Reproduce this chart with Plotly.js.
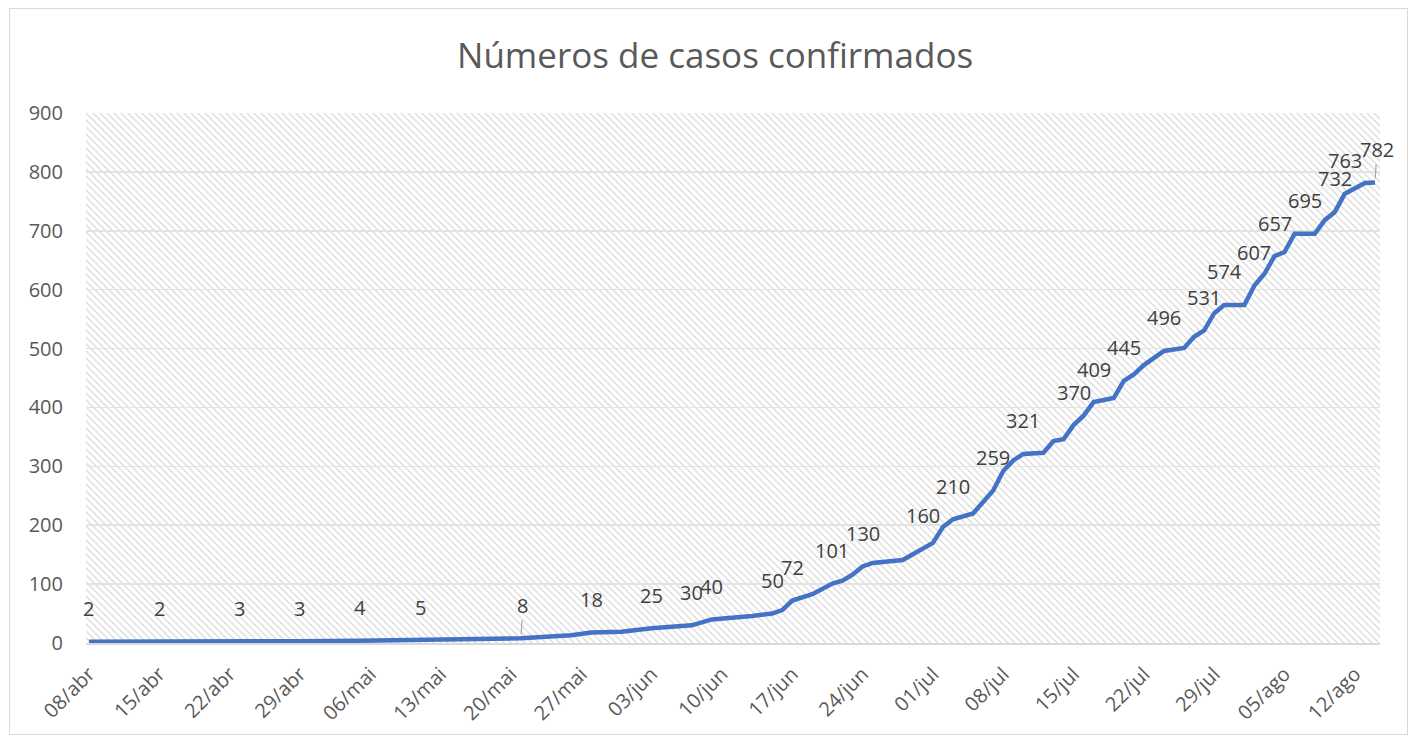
<!DOCTYPE html>
<html>
<head>
<meta charset="utf-8">
<script src="https://cdn.plot.ly/plotly-3.0.1.min.js"></script>
<style>
  body { margin: 0; background: #fff; }
  #chart { position: absolute; left: 0; top: 0; width: 1416px; height: 740px; }
  #frame {
    position: absolute; left: 9px; top: 8px; width: 1397px; height: 725px;
    border: 1px solid #d9d9d9; pointer-events: none;
  }
</style>
</head>
<body>
<div id="chart"></div>
<div id="frame"></div>
<script>
// casos confirmados acumulados
const dates = [
  "2020-04-08", "2020-04-15", "2020-04-23", "2020-04-29", "2020-05-05",
  "2020-05-11", "2020-05-20", "2020-05-21", "2020-05-26", "2020-05-28",
  "2020-05-31", "2020-06-03", "2020-06-07", "2020-06-09", "2020-06-13",
  "2020-06-15", "2020-06-16", "2020-06-17", "2020-06-19", "2020-06-20",
  "2020-06-21", "2020-06-22", "2020-06-23", "2020-06-24", "2020-06-25",
  "2020-06-28", "2020-06-30", "2020-07-01", "2020-07-02", "2020-07-03",
  "2020-07-05", "2020-07-07", "2020-07-08", "2020-07-09", "2020-07-10",
  "2020-07-12", "2020-07-13", "2020-07-14", "2020-07-15", "2020-07-16",
  "2020-07-17", "2020-07-19", "2020-07-20", "2020-07-21", "2020-07-22",
  "2020-07-24", "2020-07-26", "2020-07-27", "2020-07-28", "2020-07-29",
  "2020-07-30", "2020-08-01", "2020-08-02", "2020-08-03", "2020-08-04",
  "2020-08-05", "2020-08-06", "2020-08-07", "2020-08-08", "2020-08-09",
  "2020-08-10", "2020-08-11", "2020-08-13", "2020-08-14",
];
const cases = [
  2, 2, 3, 3, 4,
  5, 6, 8, 13, 18,
  19, 25, 30, 40, 46,
  50, 56, 72, 83, 92,
  101, 106, 116, 130, 136,
  141, 160, 170, 197, 210,
  220, 259, 292, 310, 321,
  323, 343, 346, 370, 386,
  409, 416, 445, 456, 472,
  496, 501, 520, 531, 560,
  574, 574, 607, 627, 657,
  664, 695, 695, 695, 718,
  732, 763, 781, 782,
];

// pontos com rótulo de dados
const labelDates = [
  "2020-04-08", "2020-04-15", "2020-04-23", "2020-04-29", "2020-05-05",
  "2020-05-11", "2020-05-21", "2020-05-28", "2020-06-03", "2020-06-07",
  "2020-06-09", "2020-06-15", "2020-06-17", "2020-06-21", "2020-06-24",
  "2020-06-30", "2020-07-03", "2020-07-07", "2020-07-10", "2020-07-15",
  "2020-07-17", "2020-07-20", "2020-07-24", "2020-07-28", "2020-07-30",
  "2020-08-02", "2020-08-04", "2020-08-07", "2020-08-10", "2020-08-11",
  "2020-08-14",
];
// rótulos com linha de chamada
const leaderDates = ["2020-05-21", "2020-08-14"];

const tickDates = [
  "2020-04-08", "2020-04-15", "2020-04-22", "2020-04-29", "2020-05-06",
  "2020-05-13", "2020-05-20", "2020-05-27", "2020-06-03", "2020-06-10",
  "2020-06-17", "2020-06-24", "2020-07-01", "2020-07-08", "2020-07-15",
  "2020-07-22", "2020-07-29", "2020-08-05", "2020-08-12",
];
const tickText = [
  "08/abr", "15/abr", "22/abr", "29/abr", "06/mai",
  "13/mai", "20/mai", "27/mai", "03/jun", "10/jun",
  "17/jun", "24/jun", "01/jul", "08/jul", "15/jul",
  "22/jul", "29/jul", "05/ago", "12/ago",
];

const FONT = "Open Sans, Noto Sans, sans-serif";

// fundo hachurado da área do gráfico
function hatchImage(w, h) {
  const svg =
    '<svg xmlns="http://www.w3.org/2000/svg" width="' + w + '" height="' + h + '">' +
    '<defs><pattern id="p" width="7" height="7" patternUnits="userSpaceOnUse">' +
    '<path d="M-2,-2 L9,9 M-2,5 L2,9 M5,-2 L9,2" stroke="#dedede" stroke-width="1.5"/>' +
    "</pattern></defs>" +
    '<rect width="100%" height="100%" fill="url(#p)"/></svg>';
  return "data:image/svg+xml;charset=utf-8," + encodeURIComponent(svg);
}

function drawChart(divId) {
  const trace = {
    type: "scatter",
    mode: "lines",
    x: dates,
    y: cases,
    line: { color: "#4472C4", width: 4.5 },
    hoverinfo: "skip",
  };

  const annotations = labelDates.map((d) => {
    const v = cases[dates.indexOf(d)];
    const leader = leaderDates.includes(d);
    const a = {
      x: d,
      y: v,
      text: String(v),
      font: { family: FONT, size: 20, color: "#404040" },
      showarrow: leader,
    };
    if (leader) {
      a.ax = 2;
      a.ay = -33;
      a.arrowhead = 0;
      a.arrowwidth = 1.2;
      a.arrowcolor = "#a6a6a6";
      a.standoff = 4;
    } else {
      a.yshift = 33;
    }
    return a;
  });

  const layout = {
    width: 1416,
    height: 740,
    margin: { l: 86, r: 36, t: 113, b: 97 },
    paper_bgcolor: "rgba(0,0,0,0)",
    plot_bgcolor: "rgba(0,0,0,0)",
    showlegend: false,
    font: { family: FONT, size: 20, color: "#595959" },
    title: {
      text: "Números de casos confirmados",
      font: { family: FONT, size: 35, color: "#595959" },
      x: 0.505,
      xanchor: "center",
      y: 0.925,
      yanchor: "middle",
    },
    xaxis: {
      type: "date",
      range: ["2020-04-07 17:00", "2020-08-14 12:00"],
      tickvals: tickDates,
      ticktext: tickText,
      tickangle: -45,
      ticks: "",
      ticklabelstandoff: 10,
      showgrid: false,
      zeroline: false,
      showline: true,
      linecolor: "#d9d9d9",
      linewidth: 1.5,
      tickfont: { family: FONT, size: 20, color: "#595959" },
      fixedrange: true,
    },
    yaxis: {
      range: [0, 900],
      dtick: 100,
      ticks: "",
      ticklabelstandoff: 22,
      showgrid: true,
      gridcolor: "#e3e3e3",
      gridwidth: 1.5,
      zeroline: false,
      showline: false,
      tickfont: { family: FONT, size: 20, color: "#595959" },
      fixedrange: true,
    },
    images: [
      {
        source: hatchImage(1294, 530),
        xref: "paper",
        yref: "paper",
        x: 0,
        y: 1,
        sizex: 1,
        sizey: 1,
        xanchor: "left",
        yanchor: "top",
        sizing: "stretch",
        layer: "below",
      },
    ],
    annotations: annotations,
    hovermode: false,
  };

  Plotly.newPlot(divId, [trace], layout, { displayModeBar: false, staticPlot: true });
}

drawChart("chart");
</script>
</body>
</html>
